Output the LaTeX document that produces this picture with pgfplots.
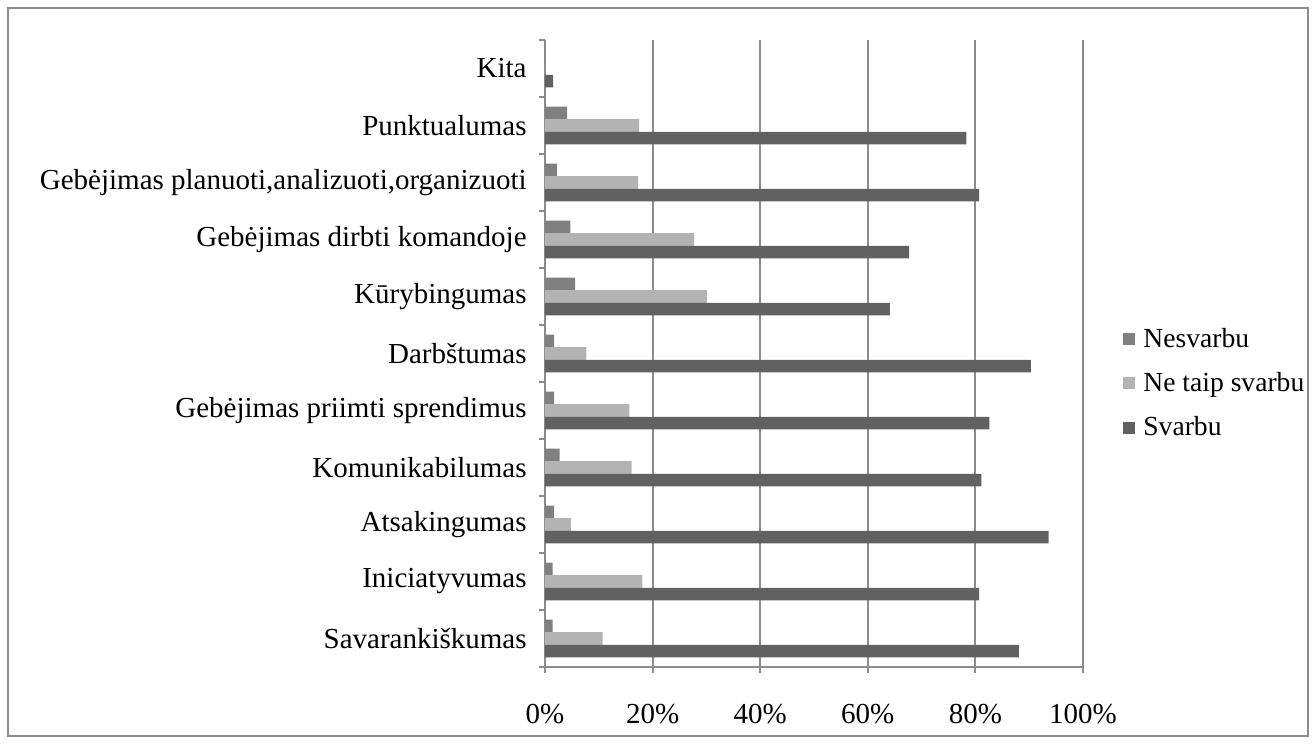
\documentclass[border=0pt]{standalone}
\usepackage{pgfplots}
\pgfplotsset{compat=1.18}
\usepackage{fontspec}
\setmainfont{Liberation Serif}
\definecolor{cNes}{HTML}{808080}
\definecolor{cNet}{HTML}{B3B3B3}
\definecolor{cSva}{HTML}{616161}
\definecolor{cGrid}{HTML}{8C8C8C}
\newcommand{\lbl}{\fontsize{14.5}{17}\selectfont}

\begin{document}
\begin{tikzpicture}
\begin{axis}[
  width=269pt, height=313.5pt, scale only axis,
  xbar, bar width=6.33pt,
  xmin=0, xmax=100, ymin=-0.5, ymax=10.5,
  axis x line*=bottom, axis y line*=left,
  axis line style={cGrid, line width=1pt},
  xmajorgrids, grid style={cGrid, line width=1pt},
  tick align=outside,
  major tick length=3pt, minor tick length=3pt,
  tick style={cGrid, line width=1pt},
  major y tick style={draw=none},
  xtick={0,20,...,100},
  xticklabels={0\%,20\%,40\%,60\%,80\%,100\%},
  ytick={0,...,10},
  yticklabels={Savarankiškumas, Iniciatyvumas, Atsakingumas, Komunikabilumas,
    Gebėjimas priimti sprendimus, Darbštumas, Kūrybingumas,
    Gebėjimas dirbti komandoje, {Gebėjimas planuoti,analizuoti,organizuoti},
    Punktualumas, Kita},
  minor ytick={-0.5,0.5,...,10.5},
  every tick label/.append style={font=\lbl},
  yticklabel style={inner sep=0pt, xshift=-6pt},
  xticklabel style={yshift=-12pt},
  legend style={draw=none, at={(1,0.5)}, anchor=west, xshift=17pt, yshift=-15pt,
    font=\fontsize{13.8}{16}\selectfont, row sep=7pt},
  legend cell align=left,
  legend image code/.code={\fill[#1,draw=none] (0pt,-3pt) rectangle (6pt,3pt);
    \path (8pt,0pt);},
]
\addplot[fill=cNes, draw=none, bar shift=6.33pt] coordinates {
  (1.4,0) (1.4,1) (1.7,2) (2.7,3) (1.7,4) (1.7,5) (5.6,6) (4.7,7) (2.2,8) (4.1,9) (0,10)};
\addlegendentry{Nesvarbu}
\addplot[fill=cNet, draw=none, bar shift=0pt] coordinates {
  (10.7,0) (18.1,1) (4.8,2) (16.1,3) (15.7,4) (7.7,5) (30.1,6) (27.7,7) (17.3,8) (17.5,9) (0,10)};
\addlegendentry{Ne taip svarbu}
\addplot[fill=cSva, draw=none, bar shift=-6.33pt] coordinates {
  (88.1,0) (80.7,1) (93.6,2) (81.1,3) (82.6,4) (90.3,5) (64.1,6) (67.7,7) (80.7,8) (78.3,9) (1.5,10)};
\addlegendentry{Svarbu}
\end{axis}
\draw[cGrid, line width=1pt] ([shift={(-268.5pt,-34.5pt)}]current axis.south west)
  rectangle ([shift={(112.5pt,16pt)}]current axis.north east);
\path ([shift={(-272.5pt,-38.5pt)}]current axis.south west)
  rectangle ([shift={(116.5pt,20pt)}]current axis.north east);
\end{tikzpicture}
\end{document}
